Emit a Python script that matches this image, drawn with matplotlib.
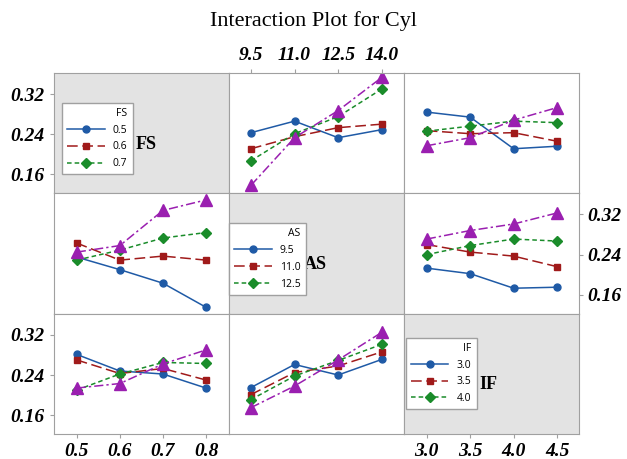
import matplotlib
matplotlib.use("Agg")
import matplotlib.pyplot as plt

# factor levels
fs_levels = [0.5, 0.6, 0.7, 0.8]
as_levels = [9.5, 11.0, 12.5, 14.0]
if_levels = [3.0, 3.5, 4.0, 4.5]
factor_names = ["FS", "AS", "IF"]
level_labels = [["0.5", "0.6", "0.7", "0.8"],
                ["9.5", "11.0", "12.5", "14.0"],
                ["3.0", "3.5", "4.0", "4.5"]]

# mean Cyl, one list per level of the traced factor
fs_by_as = [[0.243, 0.266, 0.233, 0.249],
            [0.211, 0.235, 0.253, 0.260],
            [0.187, 0.241, 0.275, 0.330],
            [0.138, 0.233, 0.287, 0.353]]
fs_by_if = [[0.284, 0.274, 0.211, 0.216],
            [0.247, 0.241, 0.243, 0.226],
            [0.246, 0.256, 0.266, 0.263],
            [0.217, 0.233, 0.268, 0.293]]
as_by_fs = [[0.235, 0.210, 0.183, 0.135],
            [0.263, 0.229, 0.237, 0.229],
            [0.229, 0.249, 0.273, 0.284],
            [0.245, 0.258, 0.328, 0.349]]
as_by_if = [[0.213, 0.202, 0.173, 0.175],
            [0.260, 0.245, 0.237, 0.216],
            [0.240, 0.258, 0.271, 0.267],
            [0.271, 0.288, 0.301, 0.323]]
if_by_fs = [[0.281, 0.248, 0.242, 0.214],
            [0.270, 0.243, 0.253, 0.230],
            [0.210, 0.242, 0.265, 0.263],
            [0.214, 0.223, 0.262, 0.290]]
if_by_as = [[0.215, 0.261, 0.240, 0.271],
            [0.201, 0.245, 0.258, 0.286],
            [0.191, 0.238, 0.269, 0.301],
            [0.175, 0.218, 0.270, 0.325]]

x_levels = [fs_levels, as_levels, if_levels]
cells = {(0, 1): fs_by_as, (0, 2): fs_by_if,
         (1, 0): as_by_fs, (1, 2): as_by_if,
         (2, 0): if_by_fs, (2, 1): if_by_as}
xlims = [(0.447, 0.853), (8.74, 14.76), (2.735, 4.75)]
yticks = [0.16, 0.24, 0.32]

colors = ["#1f5aa6", "#a01a1a", "#1a8c2a", "#9a1fb0"]
markers = ["o", "s", "D", "^"]
msizes = [5, 5, 5, 8]
styles = ["-", (0, (7, 3)), (0, (3, 2)), (0, (6, 2, 1.5, 2))]

tickfont = dict(family="Liberation Serif", weight="bold", style="italic", size=14)

fig = plt.figure(figsize=(6.27, 4.59), dpi=100)
axes = fig.subplots(3, 3, gridspec_kw=dict(wspace=0, hspace=0))
fig.subplots_adjust(left=0.086, right=0.923, top=0.841, bottom=0.054)

row_handles = {}
for r in range(3):
    for c in range(3):
        ax = axes[r][c]
        ax.set_xlim(*xlims[c])
        ax.set_ylim(0.122, 0.362)
        for s in ax.spines.values():
            s.set_color("#a0a0a0")
        ax.tick_params(length=3, color="#a0a0a0", direction="out",
                       left=False, bottom=False, labelleft=False, labelbottom=False)
        ax.set_xticks(x_levels[c])
        ax.set_yticks(yticks)
        if r == c:
            ax.set_facecolor("#e3e3e3")
            continue
        lines = []
        for k, ys in enumerate(cells[(r, c)]):
            ln, = ax.plot(x_levels[c], ys, color=colors[k], marker=markers[k],
                          markersize=msizes[k], linestyle=styles[k], linewidth=1.1)
            lines.append(ln)
        row_handles.setdefault(r, lines)

# tick labels around the edges
for r in (0, 2):
    axes[r][0].tick_params(left=True, labelleft=True)
    axes[r][0].set_yticklabels(["0.16", "0.24", "0.32"], fontdict=tickfont)
axes[1][2].tick_params(right=True, labelright=True)
axes[1][2].yaxis.set_ticks_position("right")
axes[1][2].set_yticklabels(["0.16", "0.24", "0.32"], fontdict=tickfont)
axes[0][1].xaxis.set_ticks_position("top")
axes[0][1].tick_params(top=True, labeltop=True)
axes[0][1].set_xticklabels(level_labels[1], fontdict=tickfont)
for c in (0, 2):
    axes[2][c].tick_params(bottom=True, labelbottom=True)
    axes[2][c].set_xticklabels(level_labels[c], fontdict=tickfont)

# legends and factor names in the diagonal cells
leg_pos = [(0.045, 0.158), (0.0, 0.158), (0.011, 0.208)]
name_x = [0.47, 0.43, 0.43]
for i in range(3):
    ax = axes[i][i]
    ax.legend(handles=row_handles[i][:3], labels=level_labels[i][:3],
              title=factor_names[i], loc="lower left", bbox_to_anchor=leg_pos[i],
              prop=dict(family="Open Sans", size=7.5),
              title_fontproperties=dict(family="Open Sans", size=7.5),
              alignment="right", fancybox=False, framealpha=1,
              edgecolor="#a0a0a0", handlelength=3.6, borderaxespad=0,
              labelspacing=0.55, handletextpad=0.8, borderpad=0.5)
    ax.text(name_x[i], 0.41, factor_names[i], transform=ax.transAxes, ha="left",
            va="center", family="Liberation Serif", weight="bold", size=13)

fig.suptitle("Interaction Plot for Cyl", family="Liberation Serif", size=16, y=0.975)

plt.savefig("out.png", dpi=100)
